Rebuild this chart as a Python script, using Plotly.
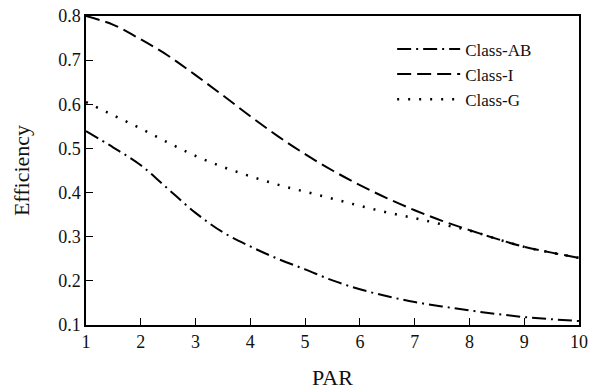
import plotly.graph_objects as go

par = [1, 1.5, 2, 2.5, 3, 3.5, 4, 4.5, 5, 5.5, 6, 6.5, 7, 7.5, 8, 8.5, 9, 9.5, 10]
class_ab = [0.539, 0.502, 0.462, 0.408, 0.354, 0.310, 0.278, 0.250, 0.226, 0.201, 0.181,
            0.165, 0.152, 0.142, 0.133, 0.125, 0.118, 0.113, 0.109]
class_i = [0.800, 0.780, 0.747, 0.710, 0.666, 0.620, 0.573, 0.528, 0.487, 0.450, 0.417,
           0.387, 0.360, 0.336, 0.315, 0.295, 0.277, 0.264, 0.252]
class_g = [0.605, 0.575, 0.545, 0.513, 0.483, 0.458, 0.437, 0.418, 0.402, 0.386, 0.370,
           0.355, 0.342, 0.328, 0.314, 0.295, 0.277, 0.264, 0.252]

x_ticks = [1, 2, 3, 4, 5, 6, 7, 8, 9, 10]
y_ticks = [0.1, 0.2, 0.3, 0.4, 0.5, 0.6, 0.7, 0.8]

font = "Liberation Serif, Times New Roman, serif"

fig = go.Figure()
fig.add_trace(go.Scatter(x=par, y=class_ab, mode="lines", name="Class-AB",
                         line=dict(color="black", width=2, dash="14px,5px,2px,5px"), line_shape="spline"))
fig.add_trace(go.Scatter(x=par, y=class_i, mode="lines", name="Class-I",
                         line=dict(color="black", width=2, dash="14px,6px"), line_shape="spline"))
fig.add_trace(go.Scatter(x=par, y=class_g, mode="lines", name="Class-G",
                         line=dict(color="black", width=2.5, dash="2px,9px"), line_shape="spline"))

fig.update_layout(
    width=603, height=391,
    margin=dict(l=86, r=24, t=16, b=66),
    paper_bgcolor="white", plot_bgcolor="white",
    font=dict(family=font, size=18, color="#111"),
    showlegend=True,
    legend=dict(x=0.621, y=0.95, xanchor="left", yanchor="top", bgcolor="rgba(0,0,0,0)",
                font=dict(size=17), tracegroupgap=0, itemwidth=63),
)
fig.update_xaxes(range=[1, 10], tickvals=x_ticks, ticktext=[str(v) for v in x_ticks],
                 ticks="inside", ticklen=7, tickcolor="black", showline=True, linecolor="black",
                 linewidth=1.5, mirror=True, showgrid=False, zeroline=False, automargin=False,
                 title=dict(text="PAR", standoff=18))
fig.update_yaxes(range=[0.1, 0.8], tickvals=y_ticks, ticktext=[f"{v:.1f}" for v in y_ticks],
                 ticks="inside", ticklen=7, tickcolor="black", showline=True, linecolor="black",
                 linewidth=1.5, mirror=True, showgrid=False, zeroline=False, automargin=False,
                 title=dict(text="Efficiency", standoff=22))

fig.write_html("out.html")
